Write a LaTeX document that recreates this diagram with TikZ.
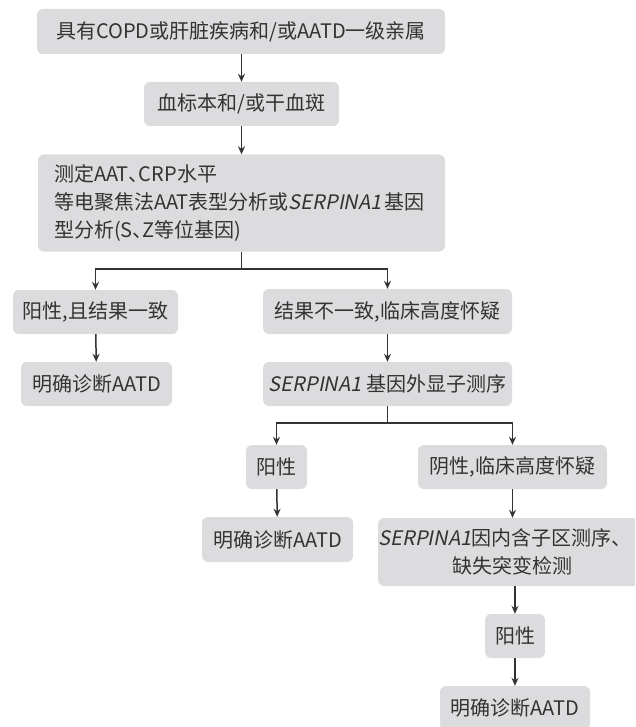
\documentclass[tikz,border=0pt]{standalone}
\usepackage{fontspec}
\setmainfont{Noto Sans CJK SC}
\newfontfamily\itfont{Noto Sans CJK SC}[FakeSlant=0.2]
\usetikzlibrary{arrows.meta}
\definecolor{boxfill}{HTML}{DCDCDE}
\definecolor{ink}{HTML}{333333}
\newcommand{\gene}{{\itfont SERPINA1}}
\newcommand{\dun}{、\kern-0.5em}
\tikzset{
  box/.style={fill=boxfill, rounded corners=6pt, inner sep=0pt, text=ink,
    font=\fontsize{20}{28}\selectfont, align=center},
  conn/.style={draw=ink, line width=1.5pt},
  arr/.style={conn, -{Stealth[length=8pt,width=7pt]}},
}
\begin{document}
\begin{tikzpicture}[x=1pt,y=-1pt]
\useasboundingbox (0,0) rectangle (635,727);
\clip (0,0) rectangle (635,727);
\node[box, minimum width=408pt, minimum height=45pt] (b1) at (241,31.5) {具有COPD或肝脏疾病和/或AATD一级亲属};
\node[box, minimum width=195pt, minimum height=44pt] (b2) at (241.5,104) {血标本和/或干血斑};
\node[box, minimum width=407pt, minimum height=97pt, text width=375pt, align=left, font=\fontsize{20}{28}\selectfont] (b3) at (241.5,203) {测定AAT\dun CRP水平\\等电聚焦法AAT表型分析或\gene\,基因\\型分析(S\dun Z等位基因)};
\node[box, minimum width=165pt, minimum height=44pt] (b4) at (95.5,312) {阳性,且结果一致};
\node[box, minimum width=249pt, minimum height=45pt] (b5) at (387.5,311.5) {结果不一致,临床高度怀疑};
\node[box, minimum width=151pt, minimum height=44pt] (b6) at (96.5,384) {明确诊断AATD};
\node[box, minimum width=249pt, minimum height=44pt] (b7) at (387.5,384) {\gene\ 基因外显子测序};
\node[box, minimum width=61pt, minimum height=44pt] (b8) at (276.5,467) {阳性};
\node[box, minimum width=189pt, minimum height=44pt] (b9) at (512.5,467) {阴性,临床高度怀疑};
\node[box, minimum width=151pt, minimum height=45pt] (b10) at (277.5,539.5) {明确诊断AATD};
% box running past the right edge, as in the reference
\fill[boxfill, rounded corners=6pt] (378,518) rectangle (646,586);
\node[box, fill=none, minimum height=68pt] (b11) at (500,552) {\gene 因内含子区测序\dun\\\hspace*{25pt}缺失突变检测};
\node[box, minimum width=60pt, minimum height=44pt] (b12) at (515,636) {阳性};
\node[box, minimum width=150pt, minimum height=44pt] (b13) at (515,708) {明确诊断AATD};

\coordinate (j1) at (241.5,269);
\coordinate (j2) at (387.5,423);

\draw[arr] (b1.south -| j1) -- (b2.north -| j1);
\draw[arr] (b2.south -| j1) -- (b3.north -| j1);
\draw[conn] (b3.south -| j1) -- (j1);
\draw[arr] (j1) -| (b4.north);
\draw[arr] (j1) -| (b5.north);
\draw[arr] (b4) -- (b6);
\draw[arr] (b5) -- (b7);
\draw[conn] (b7.south) -- (j2);
\draw[arr] (j2) -| (b8.north);
\draw[arr] (j2) -| (b9.north);
\draw[arr] (b8) -- (b10);
\draw[arr] (b9.south) -- (b9.south |- b11.north);
\draw[arr] (b11.south -| b12.north) -- (b12.north);
\draw[arr] (b12) -- (b13);
\end{tikzpicture}
\end{document}
